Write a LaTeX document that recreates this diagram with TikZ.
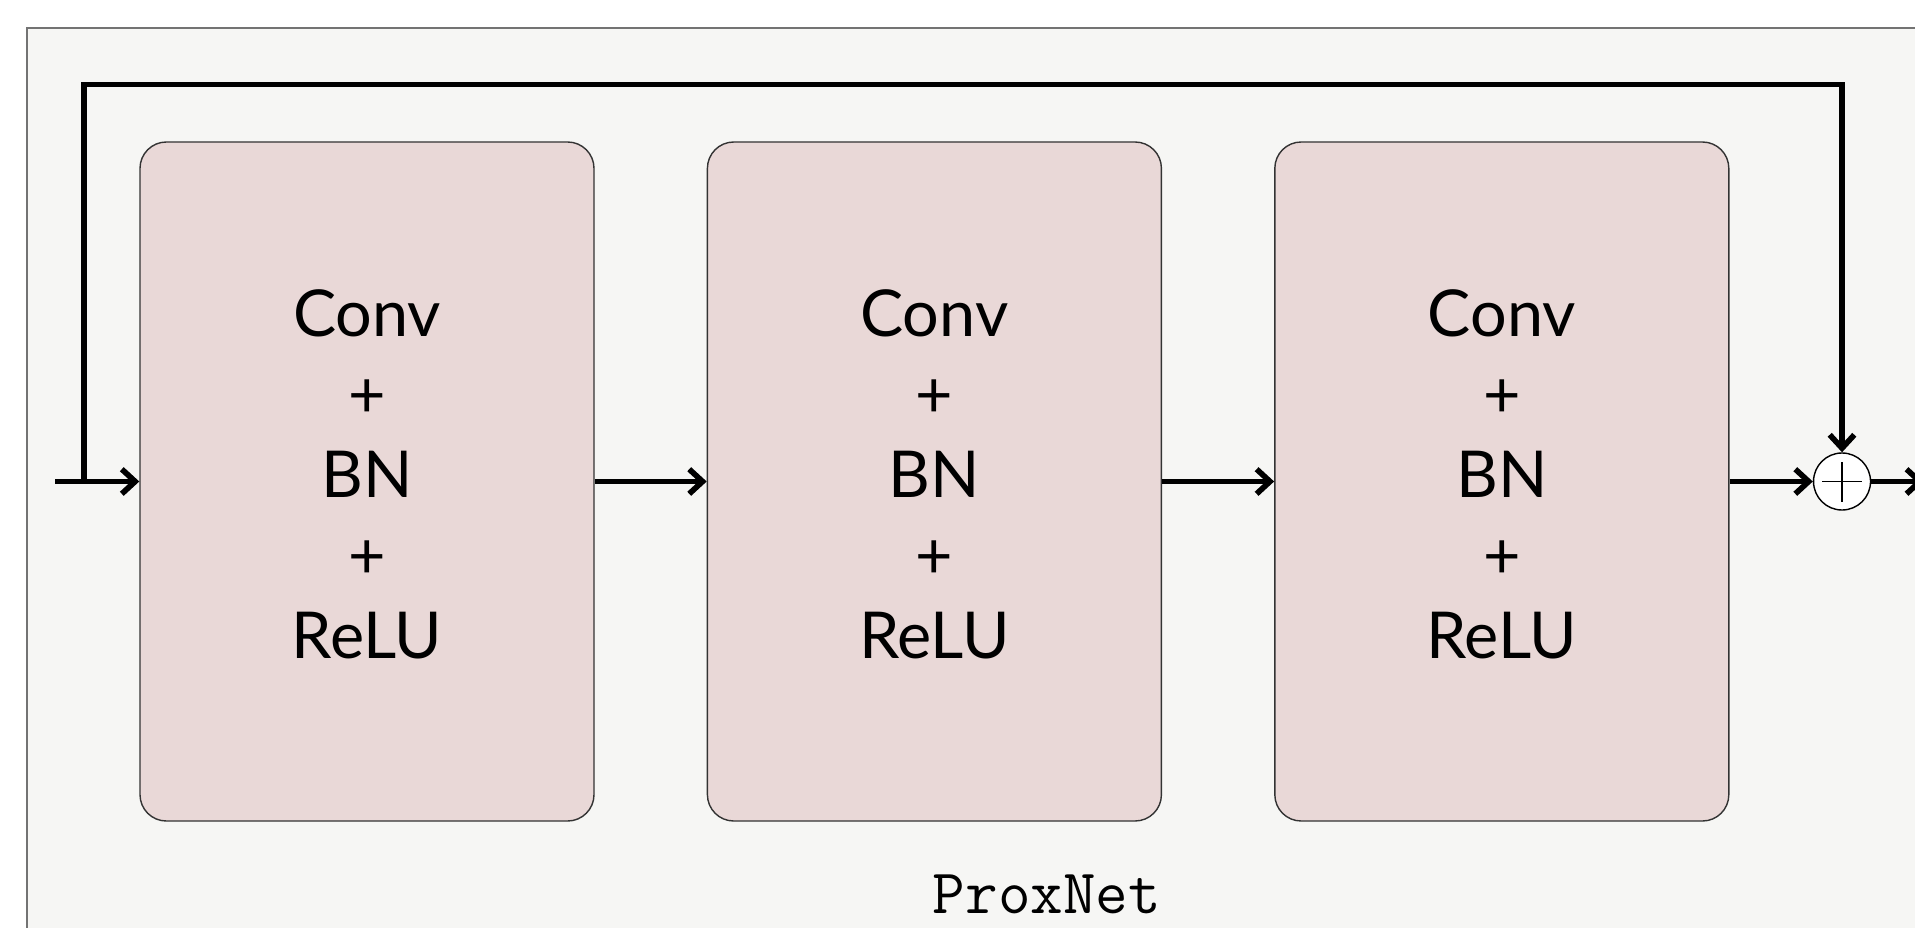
\documentclass[tikz,border=0pt]{standalone}
\usepackage{fontspec}
\newfontfamily\blockfont{Lato}
\usepackage{tikz}
\usetikzlibrary{arrows.meta, positioning, calc}
\definecolor{panelbg}{RGB}{246,246,244}
\definecolor{blockbg}{RGB}{233,216,215}
\tikzset{
  layer/.style = {
    rectangle, rounded corners=7.5pt, draw=black!80, line width=0.4pt,
    fill=blockbg, minimum width=4.54cm, minimum height=6.79cm,
    align=center, text depth=4.2pt,
    font=\blockfont\fontsize{18.4}{22.9}\selectfont
  },
  summer/.style = {
    circle, draw=black, line width=0.4pt, fill=white,
    minimum size=0.57cm, inner sep=0pt
  },
  flow/.style = {-{Straight Barb[length=3.8pt,width=7pt]}, line width=1.6pt}
}

\begin{document}
\begin{tikzpicture}
  \useasboundingbox (0,0) rectangle (19.15,-9.27);
  \clip (0,0) rectangle (19.15,-9.27);
  % Panel
  \draw[draw=black!55, line width=0.4pt, fill=panelbg] (0.27,-0.28) rectangle (19.8,-9.8);
  % Layers
  \node[layer] (conv1) at (3.67,-4.815) {Conv\\+\\BN\\+\\ReLU};
  \node[layer, right=1.12cm of conv1] (conv2) {Conv\\+\\BN\\+\\ReLU};
  \node[layer, right=1.12cm of conv2] (conv3) {Conv\\+\\BN\\+\\ReLU};
  % Residual sum
  \node[summer] (sum) at (18.42,-4.815) {};
  \draw[line width=0.5pt] ($(sum.center)+(-0.2,0)$) -- ($(sum.center)+(0.2,0)$);
  \draw[line width=0.5pt] ($(sum.center)+(0,-0.2)$) -- ($(sum.center)+(0,0.2)$);
  \coordinate (in)    at (0.55,-4.815);
  \coordinate (split) at (0.84,-4.815);
  \coordinate (out)   at (19.24,-4.815);
  % Arrows
  \draw[flow] (in) -- (conv1);
  \draw[flow] (conv1) -- (conv2);
  \draw[flow] (conv2) -- (conv3);
  \draw[flow] (conv3) -- (sum);
  \draw[flow] (sum) -- (out);
  \draw[flow] (split) -- ++(0,3.97) -| (sum.north);
  % Caption
  \node[font=\ttfamily\fontsize{18}{20}\selectfont, anchor=base] (title) at (10.47,-9.13) {ProxNet};
\end{tikzpicture}
\end{document}
